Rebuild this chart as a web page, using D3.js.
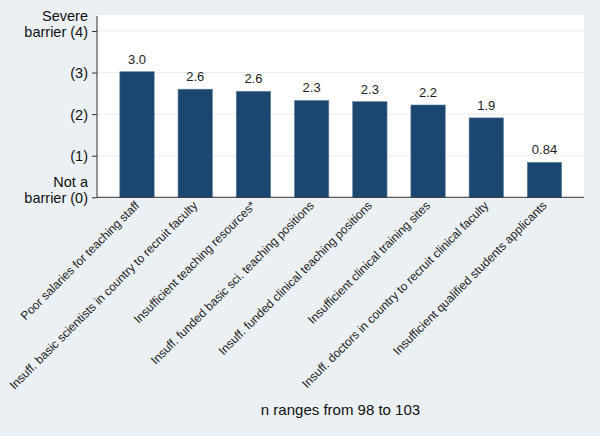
<!DOCTYPE html>
<html><head><meta charset="utf-8">
<script src="https://cdn.jsdelivr.net/npm/d3@7"></script>
<style>body{margin:0;background:#eaf0f3;} svg{display:block;}</style>
</head><body>
<script>
const categories = ["Poor salaries for teaching staff","Insuff. basic scientists in country to recruit faculty","Insufficient teaching resources*","Insuff. funded basic sci. teaching positions","Insuff. funded clinical teaching positions","Insufficient clinical training sites","Insuff. doctors in country to recruit clinical faculty","Insufficient qualified students applicants"];
const values = [3.02, 2.6, 2.55, 2.33, 2.3, 2.22, 1.91, 0.84];
const valueLabels = ["3.0","2.6","2.6","2.3","2.3","2.2","1.9","0.84"];
const yTicks = [0,1,2,3,4];
const yTickLabels = [["Not a","barrier (0)"],["(1)"],["(2)"],["(3)"],["Severe","barrier (4)"]];
const xTitle = "n ranges from 98 to 103";

const W=600,H=436;
const FONT="Liberation Sans, Arial, sans-serif";
const svg=d3.select("body").append("svg").attr("width",W).attr("height",H);
svg.append("rect").attr("width",W).attr("height",H).attr("fill","#eaf0f3");
const plot={l:97,r:584,t:15,b:197.3};
svg.append("rect").attr("x",plot.l).attr("y",plot.t).attr("width",plot.r-plot.l).attr("height",plot.b-plot.t).attr("fill","#ffffff");
const y=d3.scaleLinear().domain([0,4]).range([plot.b,31]);
const x=d3.scaleBand().domain(categories).range([107.9,573.6]).paddingInner(0.41).paddingOuter(0.205);
// grid
svg.append("g").selectAll("line").data(yTicks.filter(d=>d>0)).join("line")
 .attr("x1",plot.l).attr("x2",plot.r).attr("y1",d=>y(d)).attr("y2",d=>y(d))
 .attr("stroke","#e6edf1").attr("stroke-width",1);
// bars
svg.append("g").selectAll("rect").data(values).join("rect")
 .attr("x",(d,i)=>x(categories[i])).attr("width",x.bandwidth())
 .attr("y",d=>y(d)).attr("height",d=>y(0)-y(d))
 .attr("fill","#1a4670").attr("stroke","#5d7f9e").attr("stroke-width",0.6);
// value labels
svg.append("g").selectAll("text").data(values).join("text")
 .attr("x",(d,i)=>x(categories[i])+x.bandwidth()/2).attr("y",d=>y(d)-8)
 .attr("text-anchor","middle").attr("font-family",FONT)
 .attr("font-size",13).attr("fill","#222").text((d,i)=>valueLabels[i]);
// y axis
const yAxis=d3.axisLeft(y).tickValues(yTicks).tickSize(5).tickFormat("");
const ya=svg.append("g").attr("transform",`translate(${plot.l},0)`).call(yAxis);
ya.selectAll(".domain").attr("stroke","#333").attr("d",`M0,${plot.t+1}V${plot.b}`);
ya.selectAll(".tick line").attr("stroke","#333");
ya.selectAll(".tick").each(function(d,i){
  const lines=yTickLabels[i];
  const t=d3.select(this).append("text").attr("fill","#111").attr("text-anchor","end")
   .attr("font-family",FONT).attr("font-size",14.5);
  lines.forEach((s,k)=>{
    t.append("tspan").attr("x",-9).attr("y",(k-(lines.length-1))*15.5+5).text(s);
  });
});
// x axis
const xa=svg.append("g").attr("transform",`translate(0,${plot.b})`).call(d3.axisBottom(x).tickSize(0).tickFormat(""));
xa.select(".domain").attr("stroke","#333").attr("d",`M${plot.l},0H${plot.r}`);
xa.selectAll(".tick").append("text").attr("fill","#222").attr("text-anchor","end")
 .attr("font-family",FONT).attr("font-size",12)
 .attr("transform","translate(3,9) rotate(-45)").text(d=>d);
svg.append("text").attr("x",(plot.l+plot.r)/2).attr("y",415).attr("text-anchor","middle")
 .attr("font-family",FONT).attr("font-size",15).attr("fill","#111").text(xTitle);
</script>
</body></html>
